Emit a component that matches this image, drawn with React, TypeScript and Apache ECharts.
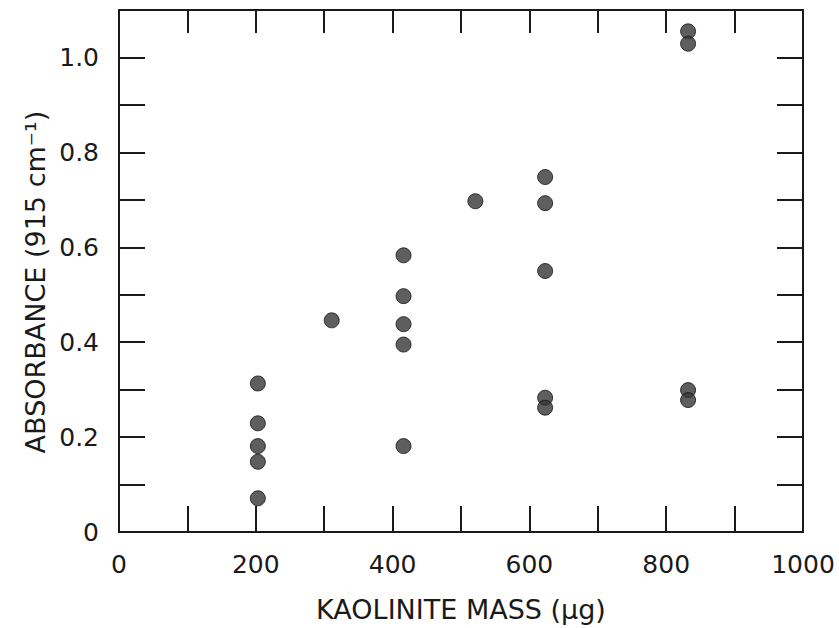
import React, { useEffect, useRef } from "react";
import * as echarts from "echarts";

// Kaolinite mass (µg) and absorbance at 915 cm^-1 for each measured sample
const mass = [203, 203, 203, 203, 203, 311, 416, 416, 416, 416, 416, 521, 623, 623, 623, 623, 623, 832, 832, 832, 832];
const absorbance = [
  0.313, 0.229, 0.181, 0.148, 0.071,
  0.446,
  0.583, 0.497, 0.438, 0.395, 0.181,
  0.697,
  0.748, 0.693, 0.55, 0.283, 0.262,
  1.055, 1.029, 0.299, 0.278,
];

const xTickLabels = ["0", "200", "400", "600", "800", "1000"];
const yTickLabels = ["0", "0.2", "0.4", "0.6", "0.8", "1.0"];

const FONT = "DejaVu Sans";
const INK = "#1a1a1a";

export default function App() {
  const ref = useRef<HTMLDivElement>(null);

  useEffect(() => {
    if (!ref.current) return;
    const chart = echarts.init(ref.current, undefined, { renderer: "svg" });

    const tick = { show: true, inside: true, length: 26, lineStyle: { color: INK, width: 2 } };
    const line = { show: true, onZero: false, lineStyle: { color: INK, width: 2 } };

    const xLabel = (v: number) => {
      const s = String(Math.round(v));
      return xTickLabels.includes(s) ? s : "";
    };
    const yLabel = (v: number) => {
      const n = Math.round(v * 10);
      const s = n === 0 ? "0" : (n / 10).toFixed(1);
      return yTickLabels.includes(s) ? s : "";
    };

    const baseX = { type: "value" as const, min: 0, max: 1000, interval: 100, splitLine: { show: false } };
    const baseY = { type: "value" as const, min: 0, max: 1.1, interval: 0.1, splitLine: { show: false } };

    chart.setOption({
      animation: false,
      backgroundColor: "#ffffff",
      grid: { left: 119, right: 36, top: 10, bottom: 96 },
      graphic: [
        {
          type: "text",
          x: 35,
          y: 282,
          rotation: Math.PI / 2,
          style: {
            text: "ABSORBANCE (915 cm⁻¹)",
            fill: INK,
            font: `27px "${FONT}"`,
            align: "center",
            verticalAlign: "middle",
          },
        },
      ],
      xAxis: [
        {
          ...baseX,
          position: "bottom",
          axisLine: line,
          axisTick: tick,
          axisLabel: { formatter: xLabel, color: INK, fontFamily: FONT, fontSize: 25, margin: 20 },
          name: "KAOLINITE MASS (μg)",
          nameLocation: "middle",
          nameGap: 64,
          nameTextStyle: { color: INK, fontFamily: FONT, fontSize: 27 },
        },
        {
          ...baseX,
          position: "top",
          axisLine: line,
          axisTick: { ...tick, length: 23 },
          axisLabel: { show: false },
        },
      ],
      yAxis: [
        {
          ...baseY,
          position: "left",
          axisLine: line,
          axisTick: tick,
          axisLabel: { formatter: yLabel, color: INK, fontFamily: FONT, fontSize: 25, margin: 20 },
        },
        {
          ...baseY,
          position: "right",
          axisLine: line,
          axisTick: tick,
          axisLabel: { show: false },
        },
      ],
      series: [
        {
          type: "scatter",
          xAxisIndex: 0,
          yAxisIndex: 0,
          symbol: "circle",
          symbolSize: 15,
          itemStyle: { color: "#363636", borderColor: "#141414", borderWidth: 1 },
          data: mass.map((m, i) => [m, absorbance[i]]),
        },
      ],
    });

    return () => chart.dispose();
  }, []);

  return (
    <div
      ref={ref}
      style={{ position: "fixed", left: 0, top: 0, width: 839, height: 628, background: "#fff" }}
    />
  );
}
